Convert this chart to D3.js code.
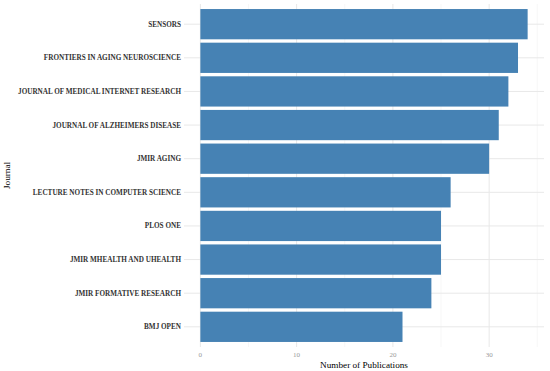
<!DOCTYPE html>
<html lang="en">
<head>
    <meta charset="UTF-8">
    <title>Top Journals</title>
    <script src="https://d3js.org/d3.v7.min.js"></script>
    <style>
        body { margin: 0; background: #fff; }
        svg { font-family: "Liberation Serif", "DejaVu Serif", serif; }
    </style>
</head>
<body>
    <div id="chart"></div>
    <script>
        var journals = [
            "SENSORS",
            "FRONTIERS IN AGING NEUROSCIENCE",
            "JOURNAL OF MEDICAL INTERNET RESEARCH",
            "JOURNAL OF ALZHEIMERS DISEASE",
            "JMIR AGING",
            "LECTURE NOTES IN COMPUTER SCIENCE",
            "PLOS ONE",
            "JMIR MHEALTH AND UHEALTH",
            "JMIR FORMATIVE RESEARCH",
            "BMJ OPEN"
        ];
        var publications = [34, 33, 32, 31, 30, 26, 25, 25, 24, 21];
        var xTicks = [0, 10, 20, 30];
        var xMinor = [5, 15, 25, 35];

        var width = 550, height = 371;
        var margin = {top: 4, right: 6, bottom: 24, left: 184};
        var innerW = width - margin.left - margin.right,
            innerH = height - margin.top - margin.bottom;

        var svg = d3.select("#chart").append("svg")
            .attr("width", width)
            .attr("height", height);

        var g = svg.append("g")
            .attr("transform", `translate(${margin.left},${margin.top})`);

        var maxV = d3.max(publications);
        var x = d3.scaleLinear()
            .domain([-maxV * 0.05, maxV * 1.05])
            .range([0, innerW]);

        var y = d3.scaleBand()
            .domain(journals)
            .range([0, innerH])
            .paddingInner(0.1)
            .paddingOuter(0.15);

        // grid lines
        g.selectAll(".minor")
            .data(xMinor)
            .join("line")
            .attr("x1", d => x(d)).attr("x2", d => x(d))
            .attr("y1", 0).attr("y2", innerH)
            .attr("stroke", "#f2f2f2").attr("stroke-width", 0.6);

        g.selectAll(".major")
            .data(xTicks)
            .join("line")
            .attr("x1", d => x(d)).attr("x2", d => x(d))
            .attr("y1", 0).attr("y2", innerH)
            .attr("stroke", "#e8e8e8").attr("stroke-width", 1);

        g.selectAll(".hgrid")
            .data(journals)
            .join("line")
            .attr("x1", 0).attr("x2", innerW)
            .attr("y1", d => y(d) + y.bandwidth() / 2)
            .attr("y2", d => y(d) + y.bandwidth() / 2)
            .attr("stroke", "#e8e8e8").attr("stroke-width", 1);

        // bars
        g.selectAll(".bar")
            .data(journals)
            .join("rect")
            .attr("x", x(0))
            .attr("y", d => y(d))
            .attr("width", (d, i) => x(publications[i]) - x(0))
            .attr("height", y.bandwidth())
            .attr("fill", "#4682B4");

        // y labels
        g.selectAll(".ylab")
            .data(journals)
            .join("text")
            .attr("x", -3)
            .attr("y", d => y(d) + y.bandwidth() / 2)
            .attr("dy", "0.35em")
            .attr("text-anchor", "end")
            .attr("font-size", "7.2px")
            .attr("font-weight", "bold")
            .attr("fill", "#333")
            .text(d => d);

        // x tick labels
        g.selectAll(".xlab")
            .data(xTicks)
            .join("text")
            .attr("x", d => x(d))
            .attr("y", innerH + 10)
            .attr("text-anchor", "middle")
            .attr("font-size", "7px")
            .attr("fill", "#999")
            .text(d => d);

        // axis titles
        svg.append("text")
            .attr("x", margin.left + innerW / 2)
            .attr("y", height - 3)
            .attr("text-anchor", "middle")
            .attr("font-size", "9.2px")
            .attr("fill", "#000")
            .text("Number of Publications");

        svg.append("text")
            .attr("transform", `translate(10,${margin.top + innerH / 2}) rotate(-90)`)
            .attr("text-anchor", "middle")
            .attr("font-size", "9.2px")
            .attr("fill", "#000")
            .text("Journal");
    </script>
</body>
</html>
